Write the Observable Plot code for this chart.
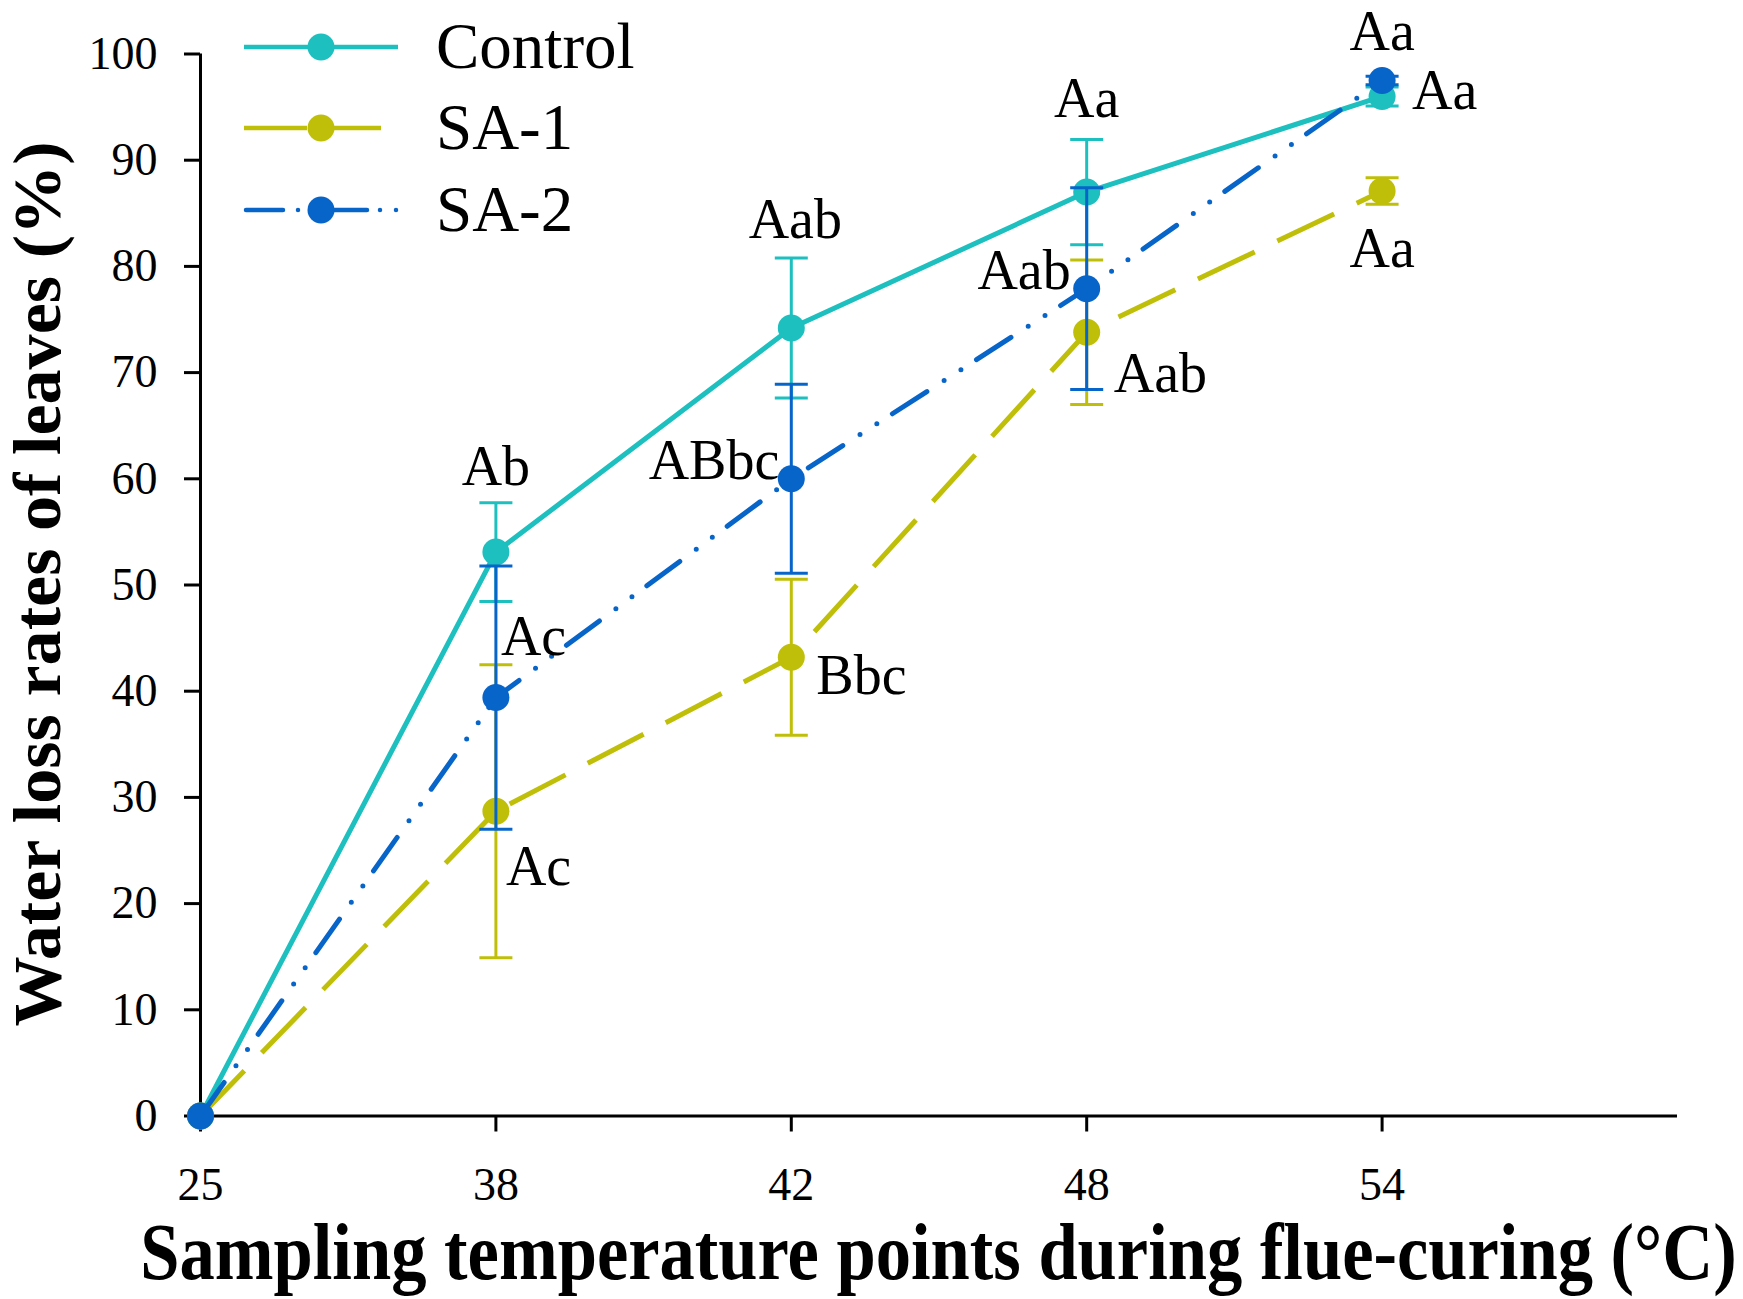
<!DOCTYPE html>
<html><head><meta charset="utf-8">
<script src="https://cdn.jsdelivr.net/npm/d3@7"></script>
<script src="https://cdn.jsdelivr.net/npm/@observablehq/plot@0.6"></script>
<style>html,body{margin:0;padding:0;background:#fff}</style>
</head><body><div id="chart"></div>
<script>
// ---- data ----
const temps = [25, 38, 42, 48, 54];
const seriesNames = ["Control", "SA-1", "SA-2"];
const controlMean = [0, 53.1, 74.2, 87.0, 96.0];
const controlErr  = [0, 4.65, 6.6, 4.95, 0.9];
const sa1Mean = [0, 28.7, 43.2, 73.8, 87.1];
const sa1Err  = [0, 13.8, 7.35, 6.8, 1.25];
const sa2Mean = [0, 39.4, 60.0, 77.9, 97.5];
const sa2Err  = [0, 12.4, 8.9, 9.5, 0.4];
const controlLetters = ["", "Ab", "Aab", "Aa", "Aa"];
const sa1Letters     = ["", "Ac", "Bbc", "Aab", "Aa"];
const sa2Letters     = ["", "Ac", "ABbc", "Aab", "Aa"];
const yTicks = d3.range(0, 101, 10);
const xTitle = "Sampling temperature points during flue-curing (°C)";
const yTitle = "Water loss rates of leaves (%)";

// ---- styles / layout ----
const colors = {"Control": "#1dbfbf", "SA-1": "#bfbf0a", "SA-2": "#0764c8"};
const dashes = {"Control": null, "SA-1": "63,25", "SA-2": "41,20.5,0,20,0,18.5"};
const legendDashes = {"Control": null, "SA-1": "63,25", "SA-2": "37,15,0,35,34,13,0,16,0,100"};
const legendStart = {"Control": 244, "SA-1": 244, "SA-2": 246};
const legendEnds = {"Control": 398, "SA-1": 381, "SA-2": 398};
const caps = {"Control": "butt", "SA-1": "butt", "SA-2": "round"};
// label placement per point: [textAnchor, dx, baseline offset px, reference]
const placement = {
  "Control": [null, ["middle", 0, -18, "top"], ["middle", 4, -19.5, "top"], ["middle", 0, -22, "top"], ["start", 30, 13, "point"]],
  "SA-1":    [null, ["start", 10, 74, "point"], ["start", 25, 37, "point"], ["start", 27, 60, "point"], ["middle", 0, 76, "point"]],
  "SA-2":    [null, ["start", 5, -43, "point"], ["end", -12, 0, "point"], ["end", -16, 0, "point"], ["middle", 0, -31, "point"]]
};
const FONT = "'Liberation Serif', 'Times New Roman', serif";
const labelSize = 56;

const table = {
  "Control": [controlMean, controlErr, controlLetters],
  "SA-1": [sa1Mean, sa1Err, sa1Letters],
  "SA-2": [sa2Mean, sa2Err, sa2Letters]
};

const capSymbol = {
  draw(ctx, size) {
    const w = Math.sqrt(size / Math.PI);
    ctx.moveTo(-w, 0);
    ctx.lineTo(w, 0);
  }
};

const marks = [
  Plot.ruleY([0], {strokeWidth: 3, stroke: "black"}),
  Plot.ruleX([0], {strokeWidth: 3, stroke: "black"}),
  Plot.axisY({ticks: yTicks, tickSize: 16, tickPadding: 27, fontSize: 46, strokeWidth: 3, label: null, fontFamily: FONT}),
  Plot.axisX({ticks: d3.range(temps.length), tickFormat: i => temps[i], tickSize: 16, tickPadding: 35, fontSize: 46, strokeWidth: 3, label: null, fontFamily: FONT})
];

for (const s of seriesNames) {
  const [means, errs, letters] = table[s];
  const rows = temps.map((t, i) => ({series: s, i, temp: t, mean: means[i], err: errs[i], letter: letters[i]}));
  const withErr = rows.filter(d => d.err > 0);
  marks.push(
    Plot.line(rows, {x: "i", y: "mean", stroke: colors[s], strokeWidth: 5, strokeDasharray: dashes[s], strokeLinecap: caps[s]}),
    Plot.ruleX(withErr, {x: "i", y1: d => d.mean - d.err, y2: d => d.mean + d.err, stroke: colors[s], strokeWidth: 3}),
    Plot.dot(withErr, {x: "i", y: d => d.mean + d.err, symbol: capSymbol, r: 16.5, stroke: colors[s], fill: "none", strokeWidth: 3}),
    Plot.dot(withErr, {x: "i", y: d => d.mean - d.err, symbol: capSymbol, r: 16.5, stroke: colors[s], fill: "none", strokeWidth: 3}),
    Plot.dot(rows, {x: "i", y: "mean", r: 13.5, fill: colors[s], stroke: "none"})
  );
}
for (const s of seriesNames) {
  const [means, errs, letters] = table[s];
  temps.forEach((t, i) => {
    const p = placement[s][i];
    if (!letters[i] || !p) return;
    const row = {i, letter: letters[i], ref: p[3] === "top" ? means[i] + errs[i] : means[i]};
    marks.push(Plot.text([row], {
      x: "i", y: "ref", text: "letter", textAnchor: p[0], dx: p[1], dy: p[2] - 0.32 * labelSize,
      fontSize: labelSize, fill: "black", fontFamily: FONT
    }));
  });
}

const svg = Plot.plot({
  width: 1743,
  height: 1299,
  marginLeft: 200,
  marginRight: 66,
  marginTop: 53.5,
  marginBottom: 183.5,
  style: {fontFamily: FONT, background: "white", color: "black", fontSize: "46px"},
  x: {domain: [0, temps.length]},
  y: {domain: [0, 100]},
  marks
});

const sel = d3.select(svg);
// axis titles
sel.append("text")
  .attr("transform", "translate(60,584) rotate(-90)")
  .attr("text-anchor", "middle")
  .attr("font-family", FONT).attr("font-weight", "bold").attr("font-size", 68)
  .attr("textLength", 885).attr("lengthAdjust", "spacingAndGlyphs")
  .attr("fill", "black")
  .text(yTitle);
sel.append("text")
  .attr("transform", "translate(938.5,1279) scale(0.882,1)")
  .attr("text-anchor", "middle")
  .attr("font-family", FONT).attr("font-weight", "bold").attr("font-size", 80)
  .attr("fill", "black")
  .text(xTitle);

// legend
const legendRows = [47, 128, 210];
const lg = sel.append("g").attr("text-anchor", "start");
seriesNames.forEach((s, k) => {
  const y = legendRows[k];
  lg.append("line").attr("x1", legendStart[s]).attr("x2", legendEnds[s]).attr("y1", y).attr("y2", y)
    .attr("stroke", colors[s]).attr("stroke-width", 4.5)
    .attr("stroke-dasharray", legendDashes[s]).attr("stroke-linecap", caps[s]);
  lg.append("circle").attr("cx", 321).attr("cy", y).attr("r", 13.5).attr("fill", colors[s]);
  lg.append("text").attr("x", 436).attr("y", y + 21).attr("text-anchor", "start")
    .attr("font-family", FONT).attr("font-size", 65).attr("fill", "black").text(s);
});

document.getElementById("chart").appendChild(svg);
</script>
</body></html>
